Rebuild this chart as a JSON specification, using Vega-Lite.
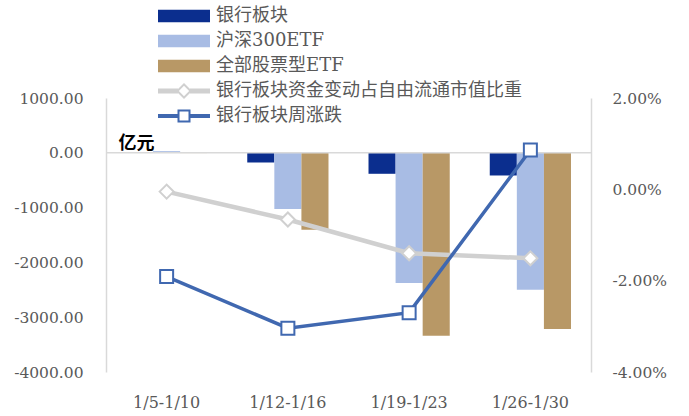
{
  "$schema": "https://vega.github.io/schema/vega-lite/v6.json",
  "autosize": "none",
  "width": 485,
  "height": 274,
  "padding": {"left": 106, "top": 98, "right": 98, "bottom": 44},
  "background": "white",
  "config": {
    "view": {"stroke": null},
    "axis": {"grid": false, "ticks": false, "labelFont": "DejaVu Serif", "labelFontSize": 15.5, "labelColor": "#595959", "domainColor": "#D9D9D9", "domainWidth": 1.5}
  },
  "datasets": {
    "bars": [
      {"week": "1/5-1/10", "series": "银行板块", "value": -5},
      {"week": "1/5-1/10", "series": "沪深300ETF", "value": 30},
      {"week": "1/5-1/10", "series": "全部股票型ETF", "value": -5},
      {"week": "1/12-1/16", "series": "银行板块", "value": -177},
      {"week": "1/12-1/16", "series": "沪深300ETF", "value": -1027},
      {"week": "1/12-1/16", "series": "全部股票型ETF", "value": -1405},
      {"week": "1/19-1/23", "series": "银行板块", "value": -383},
      {"week": "1/19-1/23", "series": "沪深300ETF", "value": -2378},
      {"week": "1/19-1/23", "series": "全部股票型ETF", "value": -3340},
      {"week": "1/26-1/30", "series": "银行板块", "value": -414},
      {"week": "1/26-1/30", "series": "沪深300ETF", "value": -2500},
      {"week": "1/26-1/30", "series": "全部股票型ETF", "value": -3217}
    ],
    "lines": [
      {"week": "1/5-1/10", "series": "银行板块资金变动占自由流通市值比重", "pct": -0.0005},
      {"week": "1/12-1/16", "series": "银行板块资金变动占自由流通市值比重", "pct": -0.0066},
      {"week": "1/19-1/23", "series": "银行板块资金变动占自由流通市值比重", "pct": -0.0140},
      {"week": "1/26-1/30", "series": "银行板块资金变动占自由流通市值比重", "pct": -0.0151},
      {"week": "1/5-1/10", "series": "银行板块周涨跌", "pct": -0.0191},
      {"week": "1/12-1/16", "series": "银行板块周涨跌", "pct": -0.0304},
      {"week": "1/19-1/23", "series": "银行板块周涨跌", "pct": -0.0270},
      {"week": "1/26-1/30", "series": "银行板块周涨跌", "pct": 0.0086}
    ],
    "zero": [{"z": 0}]
  },
  "layer": [
    {
      "data": {"name": "bars"},
      "mark": {"type": "bar"},
      "encoding": {
        "x": {"field": "week", "type": "nominal", "sort": null,
          "scale": {"domain": ["1/5-1/10", "1/12-1/16", "1/19-1/23", "1/26-1/30"], "paddingInner": 0.33, "paddingOuter": 0.165},
          "axis": {"title": null, "domain": false, "labelAngle": 0, "labelPadding": 22, "labelFontSize": 16}},
        "xOffset": {"field": "series", "type": "nominal", "sort": null, "scale": {"domain": ["银行板块", "沪深300ETF", "全部股票型ETF"], "paddingInner": 0}},
        "y": {"field": "value", "type": "quantitative",
          "scale": {"domain": [-4000, 1000], "nice": false},
          "axis": {"orient": "left", "values": [-4000, -3000, -2000, -1000, 0, 1000], "format": ".2f",
            "labelExpr": "replace(datum.label, '\u2212', '-')", "labelPadding": 23,
            "title": "亿元", "titleAngle": 0, "titleAlign": "left", "titleBaseline": "middle", "titleX": 12, "titleY": 45,
            "titleFont": "Noto Sans CJK SC", "titleFontSize": 18, "titleFontWeight": "bold", "titleColor": "#000000"}},
        "color": {"field": "series", "type": "nominal",
          "scale": {"domain": ["银行板块", "沪深300ETF", "全部股票型ETF", "银行板块资金变动占自由流通市值比重", "银行板块周涨跌"],
            "range": ["#0B2E8E", "#A8BCE4", "#B89866", "#D0D0D0", "#4068B0"]},
          "legend": {
            "title": null, "orient": "none", "legendX": 47, "legendY": -91, "padding": 0,
            "labelFont": "DejaVu Serif, Noto Sans CJK SC", "labelFontSize": 18, "labelColor": "#595959",
            "labelOffset": 45, "labelLimit": 500, "rowPadding": 7, "symbolSize": 64, "symbolStrokeWidth": 0,
            "encode": {
              "symbols": {"update": {
                "shape": [
                  {"test": "datum.value === '银行板块资金变动占自由流通市值比重'", "value": "M-1,-0.625H4V0.625H-1Z M7,-0.625H12V0.625H7Z M3.5,0L5.5,-2L7.5,0L5.5,2Z M4.21,0L5.5,1.29L6.79,0L5.5,-1.29Z"},
                  {"test": "datum.value === '银行板块周涨跌'", "value": "M-1,-0.5H4V0.5H-1Z M7,-0.5H12V0.5H7Z M3.875,-1.625H7.125V1.625H3.875Z M4.375,-1.125V1.125H6.625V-1.125Z"},
                  {"value": "M-1,-1.55H12V1.55H-1Z"}
                ],
                "strokeWidth": {"value": 0},
                "size": {"value": 64},
                "opacity": {"value": 1}
              }}
            }
          }}
      }
    },
    {
      "data": {"name": "zero"},
      "mark": {"type": "rule", "color": "#D9D9D9", "strokeWidth": 1.5},
      "encoding": {"y": {"field": "z", "type": "quantitative", "scale": {"domain": [-4000, 1000], "nice": false}, "axis": null}}
    },
    {
      "data": {"name": "lines"},
      "transform": [{"filter": "datum.series === '银行板块资金变动占自由流通市值比重'"}],
      "mark": {"type": "line", "strokeWidth": 4.5},
      "encoding": {
        "x": {"field": "week", "type": "nominal", "sort": null},
        "y": {"field": "pct", "type": "quantitative",
          "scale": {"domain": [-0.04, 0.02], "nice": false},
          "axis": {"orient": "right", "values": [-0.04, -0.02, 0, 0.02], "format": ".2%",
            "labelExpr": "replace(datum.label, '\u2212', '-')", "labelPadding": 21, "title": null}},
        "color": {"field": "series", "type": "nominal", "legend": null}
      }
    },
    {
      "data": {"name": "lines"},
      "transform": [{"filter": "datum.series === '银行板块周涨跌'"}],
      "mark": {"type": "line", "strokeWidth": 3.5},
      "encoding": {
        "x": {"field": "week", "type": "nominal", "sort": null},
        "y": {"field": "pct", "type": "quantitative", "scale": {"domain": [-0.04, 0.02], "nice": false}, "axis": null},
        "color": {"field": "series", "type": "nominal", "legend": null}
      }
    },
    {
      "data": {"name": "lines"},
      "transform": [{"filter": "datum.series === '银行板块资金变动占自由流通市值比重'"}],
      "mark": {"type": "point", "shape": "diamond", "size": 196, "filled": false, "fill": "white", "strokeWidth": 2, "opacity": 1},
      "encoding": {
        "x": {"field": "week", "type": "nominal", "sort": null},
        "y": {"field": "pct", "type": "quantitative", "scale": {"domain": [-0.04, 0.02], "nice": false}, "axis": null},
        "color": {"field": "series", "type": "nominal", "legend": null}
      }
    },
    {
      "data": {"name": "lines"},
      "transform": [{"filter": "datum.series === '银行板块周涨跌'"}],
      "mark": {"type": "point", "shape": "square", "size": 169, "filled": false, "fill": "white", "strokeWidth": 2, "opacity": 1},
      "encoding": {
        "x": {"field": "week", "type": "nominal", "sort": null},
        "y": {"field": "pct", "type": "quantitative", "scale": {"domain": [-0.04, 0.02], "nice": false}, "axis": null},
        "color": {"field": "series", "type": "nominal", "legend": null}
      }
    }
  ],
  "resolve": {"scale": {"y": "independent"}}
}
